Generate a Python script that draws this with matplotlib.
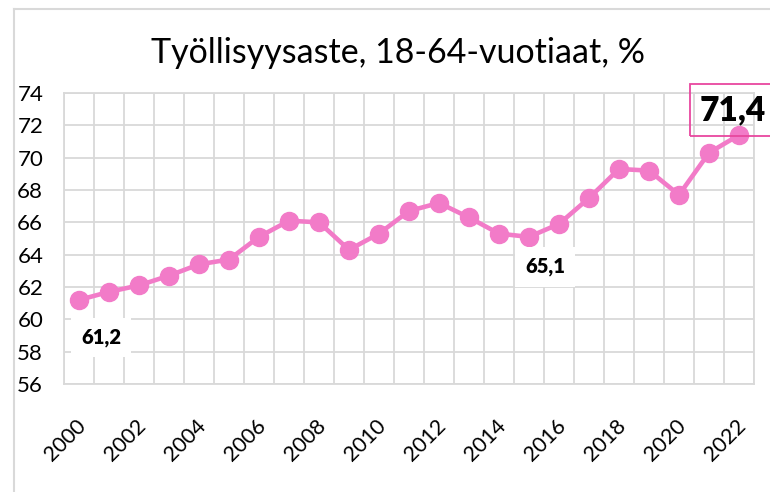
import numpy as np
import matplotlib
matplotlib.use("Agg")
import matplotlib.pyplot as plt
from matplotlib.lines import Line2D
from matplotlib.transforms import ScaledTranslation

plt.rcParams['font.family'] = ['Lato', 'DejaVu Sans']

years = list(range(2000, 2023))
rate = [61.2, 61.7, 62.1, 62.7, 63.4, 63.7, 65.1, 66.1, 66.0, 64.3, 65.3, 66.7,
        67.2, 66.3, 65.3, 65.1, 65.9, 67.5, 69.3, 69.2, 67.7, 70.3, 71.4]
yticks = list(range(56, 75, 2))
title = "Työllisyysaste, 18-64-vuotiaat, %"

pink = '#F27BC8'
grid = '#D9D9D9'

fig = plt.figure(figsize=(7.7, 4.92), dpi=100)
ax = fig.add_axes([64/770, 108/492, 690/770, 291/492])

ax.plot(years, rate, color=pink, lw=3.3, marker='o', ms=13, zorder=3,
        solid_capstyle='round')

ax.set_xlim(years[0] - 0.5, years[-1] + 0.5)
ax.set_ylim(yticks[0], yticks[-1])
ax.set_yticks(yticks)
ax.set_xticks(years[::2])
ax.set_xticks(np.arange(years[0] - 0.5, years[-1] + 1), minor=True)
ax.grid(False)
ax.grid(True, which='minor', axis='x', color=grid, lw=1.3)
ax.grid(True, which='major', axis='y', color=grid, lw=1.3)
ax.set_axisbelow(True)
for s in ax.spines.values():
    s.set_color(grid)
    s.set_linewidth(1.3)
ax.tick_params(which='both', length=0)
ax.tick_params(axis='y', labelsize=16, pad=15)
ax.tick_params(axis='x', labelsize=15.5, pad=28)
shift = ScaledTranslation(4/100, 0, fig.dpi_scale_trans)
for lab in ax.get_xticklabels():
    lab.set_rotation(45)
    lab.set_rotation_mode('anchor')
    lab.set_ha('right')
    lab.set_va('center')
    lab.set_transform(lab.get_transform() + shift)

fig.text(0.517, 0.872, title, ha='center', va='baseline', fontsize=24.5)

# data labels
ax.text(years[0] + 0.73, 58.9, "61,2", ha='center', va='center', fontsize=14.5,
        fontweight='heavy', bbox=dict(boxstyle='square,pad=0.5', fc='white', ec='none'), zorder=4)
ax.text(years[15] + 0.53, 63.24, "65,1", ha='center', va='center', fontsize=14.5,
        fontweight='heavy', bbox=dict(boxstyle='square,pad=0.5', fc='white', ec='none'), zorder=4)
ax.text(years[21] - 0.3, 72.95, "71,4", ha='left', va='center', fontsize=24,
        fontweight='heavy', clip_on=False,
        bbox=dict(boxstyle='square,pad=0.3', fc='none', ec='#E8479F', lw=1.3), zorder=4)

# chart area border
fig.add_artist(Line2D([14/770, 14/770], [0, 1 - 9/492], color=grid, lw=1.5))
fig.add_artist(Line2D([14/770, 1], [1 - 9/492, 1 - 9/492], color=grid, lw=1.5))

fig.savefig("out.png", dpi=100, facecolor='white')
